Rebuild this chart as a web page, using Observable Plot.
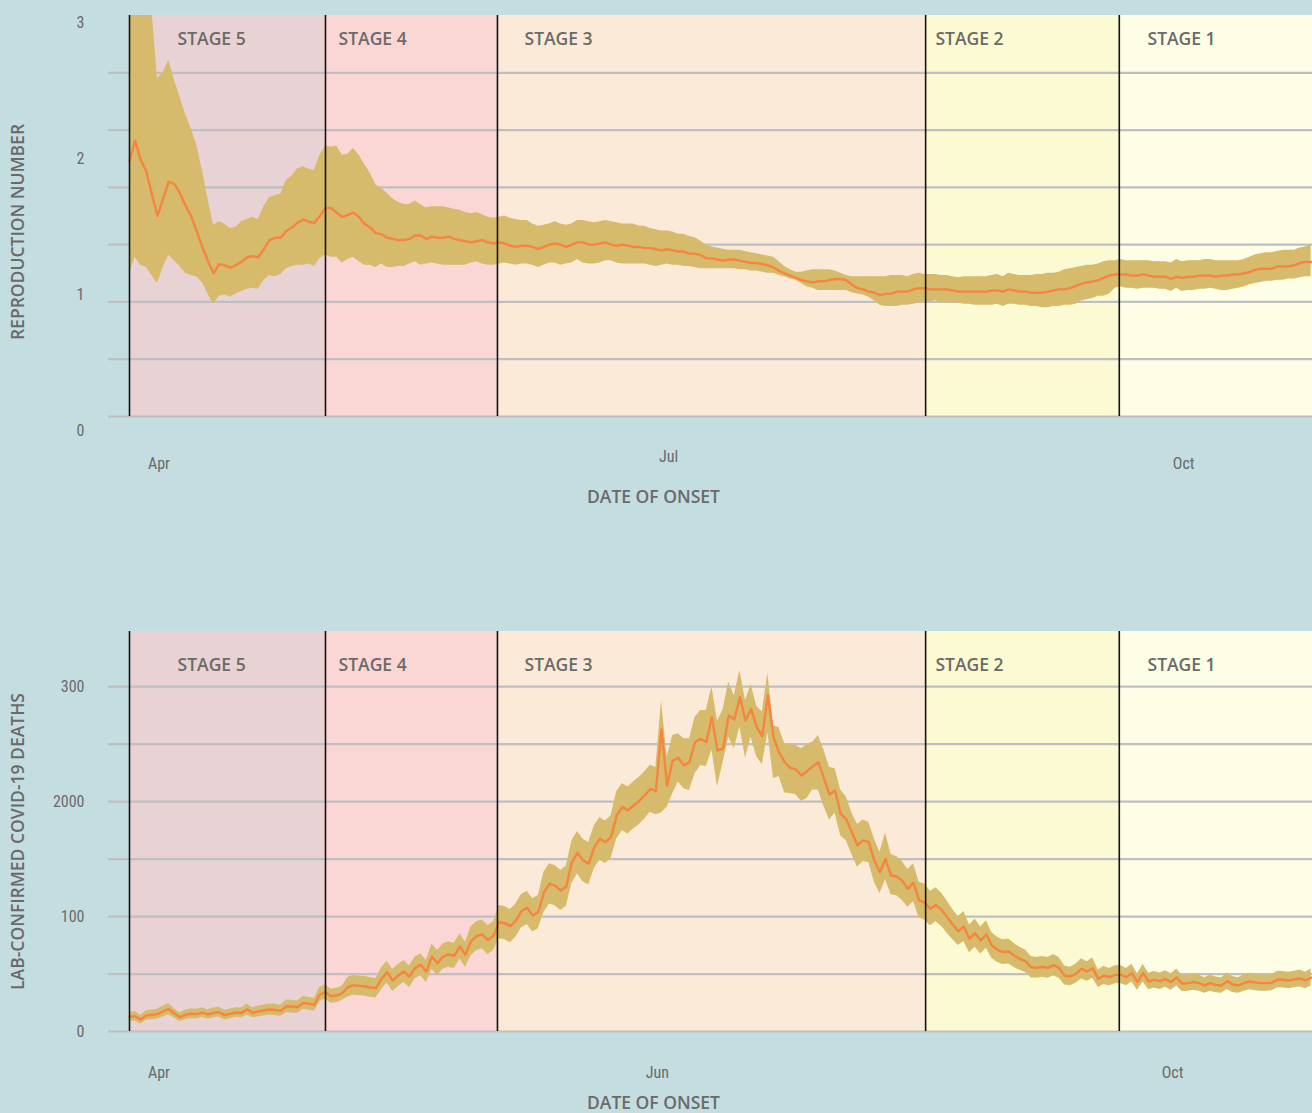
<!DOCTYPE html>
<html><head><meta charset="utf-8">
<script src="https://cdn.jsdelivr.net/npm/d3@7"></script>
<script src="https://cdn.jsdelivr.net/npm/@observablehq/plot@0.6"></script>
<style>
html,body{margin:0;padding:0;background:#c4dde0;overflow:hidden;}
#top,#bottom{display:block;width:1312px;}
svg{display:block;}
</style></head><body>
<div id="top"></div><div id="bottom"></div>
<script>
// ---------------- DATA ----------------
const seriesStart = "2020-03-26T18:00Z";   // first daily estimate
const xDomain = ["2020-03-23T00:00Z", "2020-10-24T00:00Z"];

const stageNames  = ["STAGE 5","STAGE 4","STAGE 3","STAGE 2","STAGE 1"];
const stageStarts = ["2020-03-26T18:00Z","2020-04-30T18:00Z","2020-05-31T11:00Z","2020-08-15T22:00Z","2020-09-19T12:00Z"];
const stageEnds   = ["2020-04-30T18:00Z","2020-05-31T11:00Z","2020-08-15T22:00Z","2020-09-19T12:00Z","2020-10-24T00:00Z"];
const stageLabelDates = ["2020-04-04T08:00Z","2020-05-03T02:00Z","2020-06-05T07:00Z","2020-08-17T16:00Z","2020-09-24T13:00Z"];

// Reproduction number (median, lower, upper)
const rtMid = [
2.23,2.41,2.24,2.14,1.94,1.75,1.90,2.05,2.03,1.95,
1.84,1.75,1.62,1.48,1.36,1.25,1.33,1.32,1.30,1.32,
1.35,1.39,1.40,1.39,1.46,1.54,1.56,1.56,1.62,1.65,
1.69,1.72,1.70,1.69,1.75,1.82,1.82,1.78,1.74,1.76,
1.78,1.74,1.68,1.65,1.60,1.59,1.56,1.55,1.54,1.54,
1.55,1.58,1.58,1.55,1.57,1.56,1.56,1.57,1.55,1.54,
1.53,1.52,1.53,1.54,1.52,1.51,1.52,1.51,1.49,1.48,
1.49,1.49,1.48,1.46,1.48,1.50,1.51,1.50,1.48,1.50,
1.52,1.52,1.50,1.50,1.51,1.52,1.50,1.49,1.50,1.49,
1.48,1.48,1.47,1.47,1.46,1.45,1.46,1.45,1.44,1.44,
1.42,1.42,1.41,1.38,1.38,1.37,1.36,1.37,1.37,1.36,
1.35,1.34,1.34,1.33,1.32,1.30,1.27,1.25,1.23,1.21,
1.19,1.18,1.17,1.18,1.18,1.19,1.20,1.20,1.19,1.15,
1.12,1.11,1.09,1.08,1.06,1.07,1.07,1.09,1.09,1.09,
1.11,1.12,1.12,1.11,1.11,1.11,1.11,1.10,1.09,1.09,
1.09,1.09,1.09,1.09,1.10,1.10,1.09,1.11,1.10,1.09,
1.09,1.08,1.08,1.08,1.09,1.10,1.11,1.11,1.12,1.14,
1.16,1.17,1.18,1.19,1.21,1.23,1.24,1.24,1.24,1.23,
1.23,1.24,1.23,1.22,1.22,1.22,1.20,1.22,1.21,1.22,
1.22,1.23,1.23,1.23,1.22,1.23,1.23,1.24,1.24,1.25,
1.26,1.28,1.29,1.29,1.29,1.31,1.31,1.31,1.32,1.34,
1.35,1.35];
const rtLow = [
1.25,1.39,1.32,1.30,1.23,1.16,1.30,1.41,1.36,1.31,
1.25,1.23,1.22,1.17,1.07,0.98,1.05,1.06,1.04,1.07,
1.09,1.11,1.12,1.11,1.19,1.23,1.22,1.24,1.29,1.31,
1.32,1.32,1.33,1.31,1.38,1.41,1.39,1.39,1.34,1.37,
1.39,1.35,1.32,1.32,1.30,1.33,1.30,1.30,1.31,1.31,
1.33,1.35,1.32,1.33,1.34,1.33,1.32,1.32,1.32,1.32,
1.32,1.34,1.35,1.33,1.32,1.32,1.33,1.34,1.33,1.32,
1.33,1.33,1.32,1.30,1.32,1.34,1.34,1.32,1.33,1.34,
1.37,1.34,1.33,1.33,1.34,1.36,1.36,1.34,1.33,1.33,
1.33,1.33,1.33,1.32,1.31,1.32,1.33,1.32,1.32,1.31,
1.31,1.30,1.29,1.29,1.29,1.29,1.29,1.29,1.29,1.28,
1.28,1.27,1.27,1.26,1.25,1.25,1.23,1.22,1.20,1.19,
1.16,1.13,1.12,1.10,1.10,1.10,1.10,1.10,1.10,1.08,
1.07,1.06,1.04,1.01,0.97,0.96,0.96,0.96,0.97,0.97,
0.98,0.99,1.00,1.00,1.01,0.99,0.99,0.99,0.99,0.98,
0.98,0.97,0.97,0.97,0.97,0.98,0.96,0.98,0.98,0.97,
0.97,0.96,0.96,0.95,0.95,0.96,0.96,0.97,0.97,0.98,
1.01,1.02,1.03,1.05,1.05,1.07,1.12,1.13,1.12,1.12,
1.11,1.12,1.12,1.12,1.11,1.11,1.09,1.12,1.09,1.10,
1.10,1.11,1.11,1.12,1.11,1.10,1.10,1.11,1.12,1.13,
1.15,1.16,1.17,1.18,1.18,1.19,1.19,1.20,1.20,1.21,
1.22,1.22];
const rtHigh = [
4.50,4.30,4.00,3.80,3.55,2.95,3.00,3.11,2.94,2.79,
2.64,2.51,2.37,2.15,1.90,1.67,1.70,1.68,1.64,1.65,
1.70,1.72,1.74,1.72,1.83,1.91,1.93,1.94,2.06,2.10,
2.16,2.18,2.16,2.15,2.28,2.36,2.35,2.36,2.28,2.29,
2.34,2.28,2.20,2.12,2.02,1.99,1.95,1.90,1.87,1.85,
1.85,1.88,1.85,1.82,1.83,1.83,1.83,1.82,1.81,1.80,
1.78,1.77,1.78,1.76,1.74,1.73,1.74,1.75,1.73,1.72,
1.71,1.71,1.68,1.66,1.67,1.68,1.70,1.68,1.67,1.68,
1.71,1.71,1.70,1.69,1.70,1.71,1.70,1.69,1.68,1.68,
1.68,1.66,1.66,1.64,1.63,1.62,1.62,1.61,1.59,1.59,
1.57,1.56,1.53,1.50,1.48,1.47,1.46,1.45,1.45,1.45,
1.44,1.43,1.42,1.41,1.40,1.39,1.35,1.31,1.28,1.26,
1.26,1.27,1.28,1.28,1.28,1.28,1.27,1.25,1.23,1.22,
1.22,1.22,1.22,1.22,1.22,1.22,1.23,1.23,1.23,1.22,
1.24,1.25,1.24,1.24,1.24,1.23,1.23,1.22,1.21,1.22,
1.22,1.22,1.22,1.22,1.23,1.24,1.22,1.25,1.24,1.23,
1.23,1.23,1.24,1.24,1.25,1.25,1.26,1.28,1.29,1.30,
1.31,1.32,1.32,1.33,1.35,1.36,1.36,1.37,1.36,1.36,
1.36,1.36,1.36,1.35,1.35,1.35,1.34,1.37,1.35,1.36,
1.36,1.36,1.37,1.37,1.36,1.36,1.36,1.36,1.36,1.37,
1.39,1.41,1.42,1.43,1.43,1.44,1.45,1.45,1.45,1.47,
1.48,1.50];

// Lab-confirmed COVID-19 deaths (median, lower, upper)
const deathsMid = [
128,133,104,139,145,151,174,194,159,124,
145,154,151,165,148,162,168,142,154,165,
162,191,162,174,183,191,188,180,220,217,
211,249,241,232,322,342,307,313,333,386,
403,397,394,383,377,458,516,444,487,522,
478,554,580,522,652,594,652,670,658,740,
667,786,829,845,795,830,952,943,917,965,
1047,1076,1010,1039,1210,1285,1270,1227,1262,1474,
1555,1488,1459,1604,1676,1647,1691,1880,1952,1923,
1966,2004,2054,2112,2091,2628,2140,2358,2381,2315,
2343,2518,2547,2518,2735,2445,2460,2750,2715,2909,
2706,2807,2648,2567,2924,2561,2428,2343,2294,2280,
2227,2265,2306,2343,2204,2062,2097,1894,1845,1734,
1619,1662,1648,1488,1386,1503,1357,1349,1310,1241,
1294,1140,1120,1067,1100,1060,995,931,873,914,
806,856,792,844,748,711,690,696,661,632,
612,560,554,563,554,577,554,487,479,502,
545,522,551,458,487,473,493,496,473,508,
430,508,435,450,438,456,430,470,415,421,
430,421,400,421,406,400,438,409,400,421,
435,427,421,421,424,453,450,444,453,461,
444,470];
const deathsLow = [
90,91,66,97,103,109,126,146,117,86,
103,112,109,123,106,120,126,100,112,123,
120,143,120,126,135,143,140,132,165,162,
156,194,186,177,260,280,245,251,271,301,
318,312,309,298,292,363,421,349,392,427,
383,459,485,427,542,484,542,560,548,630,
557,661,704,720,670,705,807,798,772,820,
902,931,865,894,1035,1110,1095,1052,1087,1289,
1370,1303,1274,1419,1491,1462,1506,1675,1747,1718,
1761,1799,1849,1907,1886,1900,1952,2068,2170,2112,
2097,2242,2315,2306,2450,2130,2340,2560,2460,2650,
2380,2560,2390,2320,2600,2200,2219,2074,2070,2060,
2000,2030,2100,2100,1960,1840,1900,1700,1660,1540,
1430,1480,1470,1300,1200,1320,1190,1180,1140,1080,
1130,990,970,920,955,915,855,801,748,784,
686,734,674,724,636,601,582,588,556,532,
514,468,464,473,464,485,464,405,399,420,
457,438,463,382,409,397,415,418,397,430,
358,430,363,378,366,384,358,396,345,351,
358,351,332,351,338,332,366,339,332,351,
363,355,351,351,354,381,378,372,381,387,
372,396];
const deathsHigh = [
166,175,142,181,187,193,222,242,201,162,
187,196,193,207,190,204,210,184,196,207,
204,239,204,222,231,239,236,228,275,272,
266,304,296,287,384,404,369,375,395,471,
488,482,479,468,462,553,611,539,582,617,
573,649,675,617,762,704,762,780,768,850,
777,911,954,970,920,955,1097,1088,1062,1110,
1192,1221,1155,1184,1385,1460,1445,1402,1437,1659,
1740,1673,1644,1789,1861,1832,1876,2085,2157,2128,
2171,2209,2259,2317,2296,2880,2387,2575,2590,2547,
2547,2735,2793,2793,3000,2700,2800,3040,2920,3140,
2880,3020,2830,2780,3120,2660,2642,2503,2495,2488,
2460,2500,2517,2575,2450,2300,2285,2100,2040,1900,
1800,1840,1820,1680,1560,1726,1540,1520,1480,1410,
1460,1300,1280,1220,1250,1205,1135,1061,998,1044,
926,978,910,964,860,821,798,804,766,732,
710,652,644,653,644,669,644,569,559,584,
633,606,639,534,565,549,571,574,549,586,
502,586,507,522,510,528,502,544,485,491,
502,491,468,491,474,468,510,479,468,491,
507,499,491,491,494,525,522,516,525,535,
516,544];

// Axis tick labels
const rtTickValues = [0, 1, 2, 3];
const rtMonthTicks = [{date:"2020-04-01", label:"Apr"}, {date:"2020-07-01", label:"Jul"}, {date:"2020-10-01", label:"Oct"}];
const deathTickValues = [0, 1000, 2000, 3000];
const deathTickLabels = ["0", "100", "2000", "300"];
const deathMonthTicks = [{date:"2020-04-01", label:"Apr"}, {date:"2020-06-29", label:"Jun"}, {date:"2020-09-29", label:"Oct"}];

// ---------------- STYLE ----------------
const stageFills = ["#e8d2d3", "#fad6d5", "#fbead7", "#fcfad2", "#fefde6"];
const BAND = "#d6bb6c", LINE = "#f5853f", GRID = "#bebfc2", INK = "#6a6a6a";
const TICKFONT = "'Liberation Sans Narrow','Arial Narrow','Roboto Condensed',Roboto,sans-serif";
const CAPSFONT = "'Open Sans',Lato,sans-serif";

// ---------------- BUILD ----------------
const DAY = 864e5;
const t0 = new Date(seriesStart).getTime();
const xDom = xDomain.map(d => new Date(d));
const stages = stageNames.map((name, i) => ({
  name, start: new Date(stageStarts[i]), end: new Date(stageEnds[i]),
  labelAt: new Date(stageLabelDates[i]), fill: stageFills[i]
}));
const rtRows = rtMid.map((m, i) => ({date: new Date(t0 + i * DAY), mid: m, lo: rtLow[i], hi: rtHigh[i]}));
const deathRows = deathsMid.map((m, i) => ({date: new Date(t0 + i * DAY), mid: m, lo: deathsLow[i], hi: deathsHigh[i]}));
const toDate = arr => arr.map(d => ({...d, date: new Date(d.date + "T00:00Z")}));

const capsStyle = {fill: INK, fontFamily: CAPSFONT, fontSize: 17.5, fontWeight: 600, lineAnchor: "middle"};

function panel(o) {
  return Plot.plot({
    width: 1312, height: o.height,
    marginLeft: 108, marginRight: 0, marginTop: o.mt, marginBottom: o.mb,
    x: {type: "utc", domain: xDom, axis: null},
    y: {domain: o.yDomain, axis: null},
    color: {type: "identity"},
    style: {background: "transparent", overflow: "visible"},
    marks: [
      Plot.rect(stages, {x1: "start", x2: "end", fill: "fill"}),
      Plot.ruleY(o.grid, {stroke: GRID, strokeWidth: 2.2}),
      Plot.areaY(o.rows, {x: "date", y1: "lo", y2: "hi", fill: BAND, clip: true}),
      Plot.lineY(o.rows, {x: "date", y: "mid", stroke: LINE, strokeWidth: 2.4, clip: true}),
      Plot.ruleX(stages, {x: "start", stroke: "#141414", strokeWidth: 1.6}),
      Plot.text(stages, {x: "labelAt", text: "name", frameAnchor: "top", dy: o.stageDy, textAnchor: "start", ...capsStyle}),
      Plot.text(o.yTicks, {y: o.yTickPos, text: o.yTickText, frameAnchor: "left", dx: -24, textAnchor: "end",
        lineAnchor: "middle", fill: INK, fontFamily: TICKFONT, fontSize: 16}),
      ...o.monthMarks,
      Plot.text([o.xTitle], {text: d => d, frameAnchor: "bottom", dy: o.xTitleDy, dx: -57, textAnchor: "middle", ...capsStyle}),
      Plot.text([o.yTitle], {text: d => d, frameAnchor: "left", dx: -90, dy: o.yTitleDy, rotate: -90, textAnchor: "middle", ...capsStyle})
    ]
  });
}

const monthStyle = {x: "date", text: "label", frameAnchor: "bottom", lineAnchor: "middle", fill: INK, fontFamily: TICKFONT, fontSize: 16};
const rtMonths = toDate(rtMonthTicks);
const deathMonths = toDate(deathMonthTicks);

// top panel: tick labels are spread evenly from just below the frame to just below its top
const rtLabelPos = v => -0.122 + v * 1.187;

document.getElementById("top").append(panel({
  height: 555, mt: 15, mb: 139,
  yDomain: [0, 3.5], grid: d3.range(0, 3.01, 0.5), rows: rtRows, stageDy: 24,
  yTicks: rtTickValues, yTickPos: rtLabelPos, yTickText: d => String(d),
  monthMarks: [
    Plot.text(rtMonths.filter(d => d.label !== "Jul"), {...monthStyle, dy: 47}),
    Plot.text(rtMonths.filter(d => d.label === "Jul"), {...monthStyle, dy: 40})
  ],
  xTitle: "DATE OF ONSET", xTitleDy: 81,
  yTitle: "REPRODUCTION NUMBER", yTitleDy: 16
}));

document.getElementById("bottom").append(panel({
  height: 558, mt: 76, mb: 82,
  yDomain: [0, 3480], grid: d3.range(0, 3001, 500), rows: deathRows, stageDy: 34,
  yTicks: deathTickValues, yTickPos: d => d, yTickText: (d, i) => deathTickLabels[i],
  monthMarks: [Plot.text(deathMonths, {...monthStyle, dy: 41})],
  xTitle: "DATE OF ONSET", xTitleDy: 72,
  yTitle: "LAB-CONFIRMED COVID-19 DEATHS", yTitleDy: 10
}));
</script>
</body></html>
